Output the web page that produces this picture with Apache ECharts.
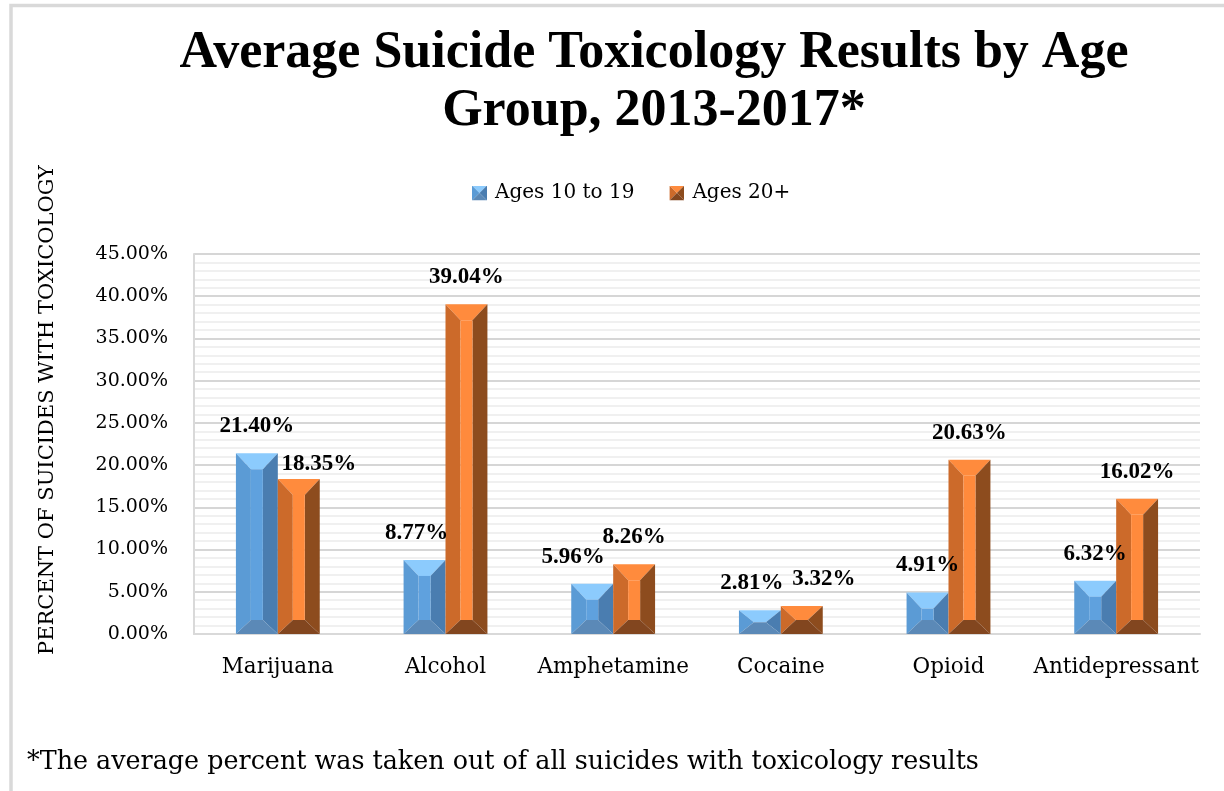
<!DOCTYPE html>
<html>
<head>
<meta charset="utf-8">
<script src="https://cdn.jsdelivr.net/npm/echarts@6/dist/echarts.min.js"></script>
<style>
html,body{margin:0;padding:0;background:#fff;}
#chart{width:1224px;height:791px;}
</style>
</head>
<body>
<div id="chart"></div>
<script>
// ---- data ----
const categories = ['Marijuana', 'Alcohol', 'Amphetamine', 'Cocaine', 'Opioid', 'Antidepressant'];
const ages10to19 = [21.40, 8.77, 5.96, 2.81, 4.91, 6.32];
const ages20plus = [18.35, 39.04, 8.26, 3.32, 20.63, 16.02];
const seriesNames = ['Ages 10 to 19', 'Ages 20+'];
const yMin = 0, yMax = 45, yStep = 5;
const titleText = 'Average Suicide Toxicology Results by Age\nGroup, 2013-2017*';
const yAxisTitle = 'PERCENT OF SUICIDES WITH TOXICOLOGY';
const footnote = '*The average percent was taken out of all suicides with toxicology results';

// ---- label nudges (px, as placed in the original) ----
const nudgeA = [[0,0],[-8,0],[-19,0],[-8,0],[0,0],[0,0]];
const nudgeB = [[20,12],[0,0],[0,0],[22,0],[0,0],[0,0]];

const palettes = [
  {top:'#8ccbfd', left:'#5b9bd5', center:'#5fa1de', right:'#4a7db0', bottom:'#5b89b7'},
  {top:'#ff8b3d', left:'#cc6a2a', center:'#ff8a3c', right:'#8d4c1e', bottom:'#82461f'}
];

function iconFor(p){
  const svg = "<svg xmlns='http://www.w3.org/2000/svg' width='15' height='15' viewBox='0 0 15 15'>" +
    "<polygon points='0,0 15,0 7.5,7.5' fill='" + p.top + "'/>" +
    "<polygon points='0,0 7.5,7.5 0,15' fill='" + p.left + "'/>" +
    "<polygon points='15,0 15,15 7.5,7.5' fill='" + p.right + "'/>" +
    "<polygon points='0,15 15,15 7.5,7.5' fill='" + p.bottom + "'/></svg>";
  return 'image://data:image/svg+xml;charset=utf-8,' + encodeURIComponent(svg);
}

function makeRenderItem(sIdx, nudges){
  const pal = palettes[sIdx];
  return function(params, api){
    const i = api.value(0), v = api.value(1);
    const topPt = api.coord([i, v]);
    const basePt = api.coord([i, 0]);
    const cw = api.size([1, 0])[0];
    const w = cw * 0.25;
    const x0 = sIdx === 0 ? topPt[0] - w : topPt[0];
    const x1 = x0 + w;
    const y0 = topPt[1], y1 = basePt[1];
    const h = y1 - y0;
    const b = w * 0.357;
    const bt = Math.min(16, h / 2), bb = Math.min(14, h / 2);
    const poly = (pts, fill) => ({type:'polygon', shape:{points:pts}, style:{fill:fill}});
    const n = nudges[i];
    const txt = v.toFixed(2) + '%';
    return {
      type:'group',
      children:[
        poly([[x0,y0],[x1,y0],[x1-b,y0+bt],[x0+b,y0+bt]], pal.top),
        poly([[x0,y0],[x0+b,y0+bt],[x0+b,y1-bb],[x0,y1]], pal.left),
        poly([[x1,y0],[x1,y1],[x1-b,y1-bb],[x1-b,y0+bt]], pal.right),
        poly([[x0,y1],[x1,y1],[x1-b,y1-bb],[x0+b,y1-bb]], pal.bottom),
        {type:'rect', shape:{x:x0+b, y:y0+bt, width:Math.max(0,w-2*b), height:Math.max(0,h-bt-bb)}, style:{fill:pal.center}},
        {type:'text', z2:100,
          x:(x0+x1)/2 + n[0], y:y0 - 27 + n[1],
          style:{text:txt, fill:'#000', fontFamily:'Liberation Serif', fontWeight:'bold', fontSize:23,
                 align:'center', verticalAlign:'middle', textAlign:'center', textVerticalAlign:'middle'}}
      ]
    };
  };
}

const chart = echarts.init(document.getElementById('chart'), null, {renderer:'canvas'});
chart.setOption({
  animation:false,
  backgroundColor:'#ffffff',
  title:{
    text:titleText, left:649, top:20, textAlign:'center',
    textStyle:{fontFamily:'Liberation Serif', fontWeight:'bold', fontSize:52, lineHeight:58, color:'#000'}
  },
  legend:{
    left:467, top:178, itemWidth:15, itemHeight:15, itemGap:35,
    textStyle:{fontFamily:'DejaVu Serif', fontSize:20, color:'#000', padding:[0,0,0,3]},
    data:[{name:seriesNames[0], icon:iconFor(palettes[0])},{name:seriesNames[1], icon:iconFor(palettes[1])}]
  },
  grid:{left:194, right:24, top:254, bottom:157, containLabel:false},
  xAxis:{
    type:'category', data:categories,
    axisLine:{lineStyle:{color:'#d9d9d9', width:2}},
    axisTick:{show:false},
    axisLabel:{interval:0, fontFamily:'DejaVu Serif', fontSize:21.5, color:'#000', margin:22},
    splitLine:{show:false}
  },
  yAxis:{
    type:'value', min:yMin, max:yMax, interval:yStep,
    axisLine:{show:true, lineStyle:{color:'#d9d9d9', width:2}},
    axisTick:{show:false},
    axisLabel:{fontFamily:'DejaVu Serif', fontSize:19, color:'#000', margin:26,
      formatter:function(v){return v.toFixed(2) + '%';}},
    splitLine:{lineStyle:{color:'#d6d6d6', width:2}},
    minorTick:{show:false, splitNumber:5},
    minorSplitLine:{show:true, lineStyle:{color:'#ececec', width:1.5}}
  },
  graphic:[
    {type:'rect', z:-10, shape:{x:11, y:5.5, width:1400, height:1000}, style:{fill:'none', stroke:'#d9d9d9', lineWidth:3.5}},
    {type:'text', x:48, y:410, rotation:Math.PI/2,
      style:{text:yAxisTitle, fill:'#000', fontFamily:'DejaVu Serif', fontSize:21,
             align:'center', verticalAlign:'middle', textAlign:'center', textVerticalAlign:'middle'}},
    {type:'text', x:27, y:762,
      style:{text:footnote, fill:'#000', fontFamily:'DejaVu Serif', fontSize:25.4,
             align:'left', verticalAlign:'middle', textAlign:'left', textVerticalAlign:'middle'}}
  ],
  series:[
    {type:'custom', name:seriesNames[0], itemStyle:{color:palettes[0].left},
     encode:{x:0, y:1}, data:ages10to19.map((v,i)=>[i,v]), renderItem:makeRenderItem(0, nudgeA)},
    {type:'custom', name:seriesNames[1], itemStyle:{color:palettes[1].left},
     encode:{x:0, y:1}, data:ages20plus.map((v,i)=>[i,v]), renderItem:makeRenderItem(1, nudgeB)}
  ]
});
</script>
</body>
</html>
